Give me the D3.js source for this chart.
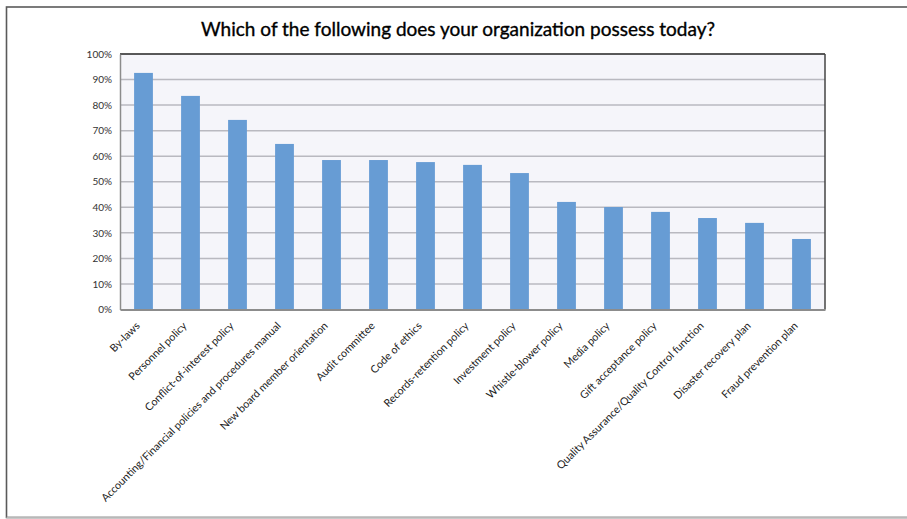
<!DOCTYPE html>
<html>
<head>
<meta charset="utf-8">
<script src="https://cdn.jsdelivr.net/npm/d3@7"></script>
<style>
  html, body { margin: 0; padding: 0; background: #ffffff; }
  svg { display: block; }
</style>
</head>
<body>
<div id="chart"></div>
<script>
// Survey question and responses
const chartTitle = "Which of the following does your organization possess today?";

const categories = [
  "By-laws",
  "Personnel policy",
  "Conflict-of-interest policy",
  "Accounting/Financial policies and procedures manual",
  "New board member orientation",
  "Audit committee",
  "Code of ethics",
  "Records-retention policy",
  "Investment policy",
  "Whistle-blower policy",
  "Media policy",
  "Gift acceptance policy",
  "Quality Assurance/Quality Control function",
  "Disaster recovery plan",
  "Fraud prevention plan"
];

// Share of organizations (%)
const shares = [92.6, 83.6, 74.2, 64.8, 58.5, 58.5, 57.7, 56.6, 53.4, 42.1, 40.1, 38.2, 35.8, 33.9, 27.6];

const yTicks = [0, 10, 20, 30, 40, 50, 60, 70, 80, 90, 100];

const W = 907, H = 519;
const plot = { left: 120, top: 54, right: 825, bottom: 309.5 };
const font = "Lato, 'Open Sans', 'DejaVu Sans', sans-serif";

const svg = d3.select("#chart").append("svg")
  .attr("width", W).attr("height", H);

// outer chart frame
svg.append("rect")
  .attr("x", 6.5).attr("y", 7).attr("width", W + 10).attr("height", 510.5)
  .attr("fill", "#ffffff").attr("stroke", "#5a5a5a").attr("stroke-width", 1.6);
svg.append("line")
  .attr("x1", 6.5).attr("x2", W).attr("y1", 517.5).attr("y2", 517.5)
  .attr("stroke", "#b8b8b8").attr("stroke-width", 1.5);

// title
svg.append("text")
  .attr("x", 458).attr("y", 36)
  .attr("text-anchor", "middle")
  .attr("font-family", font)
  .attr("font-size", 19)
  .attr("fill", "#000")
  .attr("stroke", "#000").attr("stroke-width", 0.35)
  .text(chartTitle);

const x = d3.scaleBand()
  .domain(categories)
  .range([plot.left, plot.right])
  .paddingInner(0.6)
  .paddingOuter(0.3);

const y = d3.scaleLinear()
  .domain([0, 100])
  .range([plot.bottom, plot.top]);

// plot background
svg.append("rect")
  .attr("x", plot.left).attr("y", plot.top)
  .attr("width", plot.right - plot.left).attr("height", plot.bottom - plot.top)
  .attr("fill", "#f5f5fa");

// gridlines
svg.append("g")
  .selectAll("line")
  .data(yTicks.filter(t => t > 0 && t < 100))
  .join("line")
  .attr("x1", plot.left).attr("x2", plot.right)
  .attr("y1", d => y(d)).attr("y2", d => y(d))
  .attr("stroke", "#b9b9c0").attr("stroke-width", 1.5);

// bars
svg.append("g")
  .selectAll("rect")
  .data(categories)
  .join("rect")
  .attr("x", d => x(d))
  .attr("width", x.bandwidth())
  .attr("y", (d, i) => y(shares[i]))
  .attr("height", (d, i) => y(0) - y(shares[i]))
  .attr("fill", "#679cd4");

// plot frame: dark top/right, grey left/bottom
svg.append("line")
  .attr("x1", plot.left).attr("x2", plot.right)
  .attr("y1", plot.top).attr("y2", plot.top)
  .attr("stroke", "#222").attr("stroke-width", 1.3);
svg.append("line")
  .attr("x1", plot.right).attr("x2", plot.right)
  .attr("y1", plot.top).attr("y2", plot.bottom)
  .attr("stroke", "#444").attr("stroke-width", 1.5);

// y axis
const yAxis = d3.axisLeft(y)
  .tickValues(yTicks)
  .tickFormat(d => d + "%")
  .tickSize(0)
  .tickPadding(8);
const gy = svg.append("g")
  .attr("transform", `translate(${plot.left},0)`)
  .call(yAxis);
gy.select(".domain").attr("stroke", "#8c8c8c").attr("stroke-width", 1.5);
gy.selectAll(".tick text")
  .attr("font-family", font).attr("font-size", 10).attr("fill", "#333");

// x axis
const xAxis = d3.axisBottom(x).tickSize(0).tickPadding(0);
const gx = svg.append("g")
  .attr("transform", `translate(0,${plot.bottom})`)
  .call(xAxis);
gx.select(".domain").attr("stroke", "#8c8c8c").attr("stroke-width", 2);
gx.selectAll(".tick text")
  .attr("font-family", font).attr("font-size", 10.7).attr("fill", "#222")
  .attr("text-anchor", "end")
  .attr("dy", 0)
  .attr("transform", "translate(-3,17) rotate(-45)");
</script>
</body>
</html>
